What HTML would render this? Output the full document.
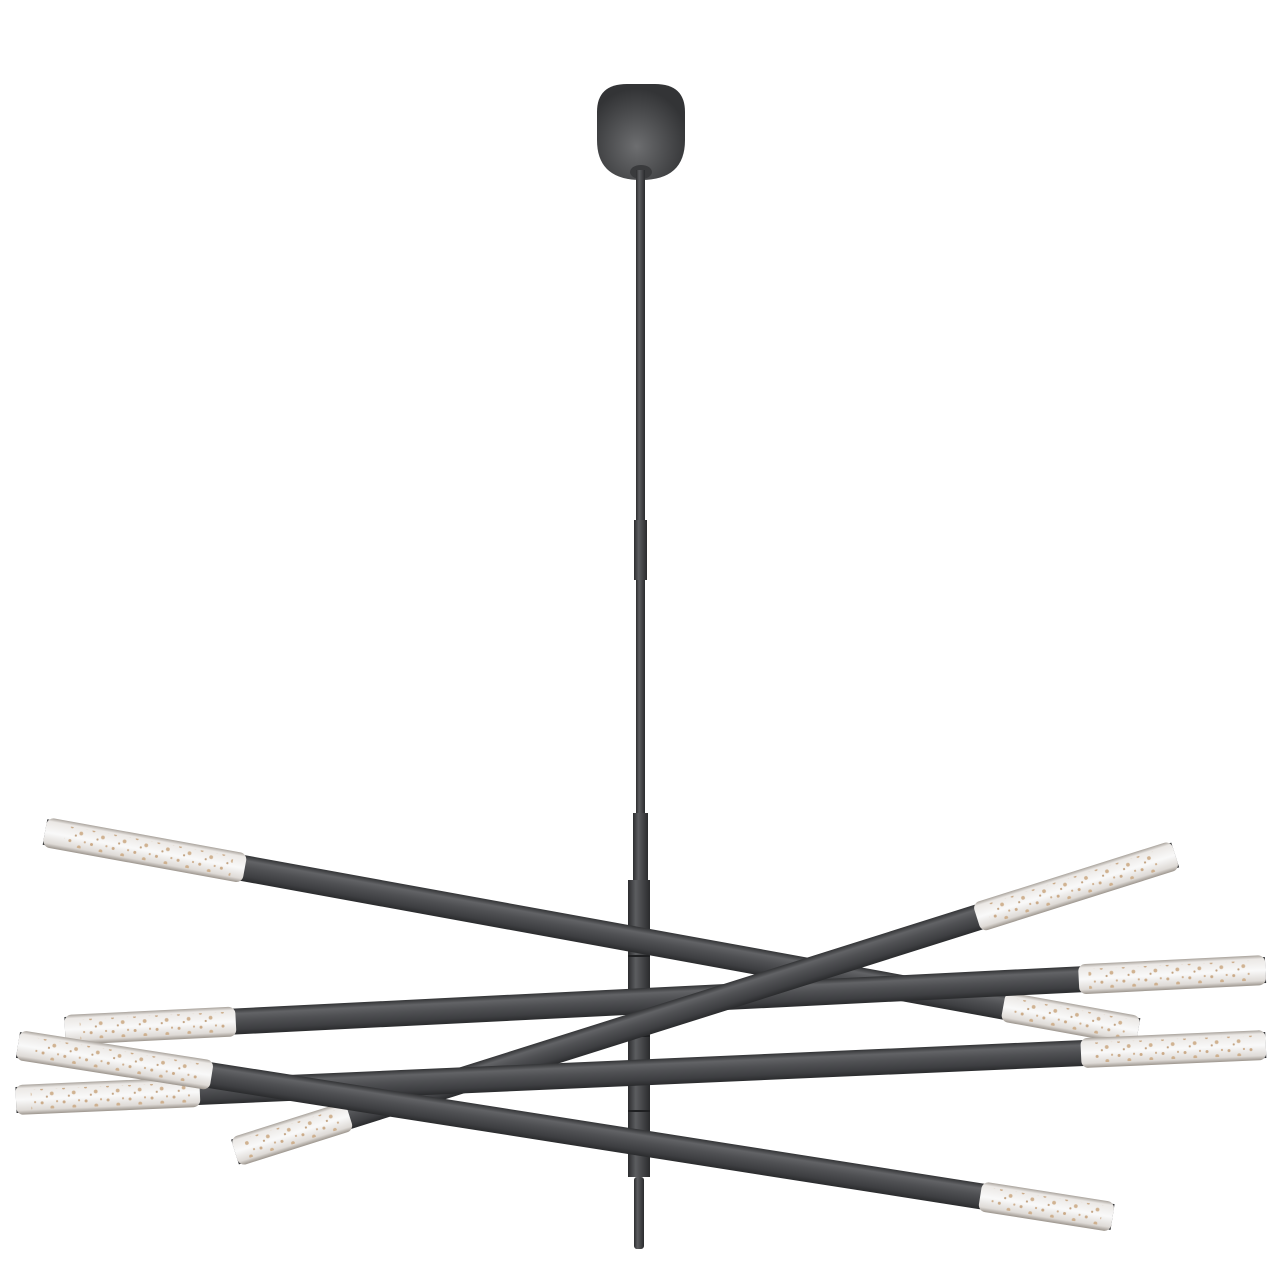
<!DOCTYPE html>
<html><head><meta charset="utf-8"><style>html,body{margin:0;padding:0;background:#fff;}svg{display:block}</style></head>
<body>
<svg width="1280" height="1280" viewBox="0 0 1280 1280" xmlns="http://www.w3.org/2000/svg">
<defs>
<linearGradient id="rod" x1="0" y1="0" x2="0" y2="1">
<stop offset="0" stop-color="#333436"/><stop offset="0.2" stop-color="#626366"/><stop offset="0.45" stop-color="#505154"/><stop offset="0.8" stop-color="#3d3e41"/><stop offset="1" stop-color="#2a2b2d"/>
</linearGradient>
<linearGradient id="tip" x1="0" y1="0" x2="0" y2="1">
<stop offset="0" stop-color="#a9a39c"/><stop offset="0.12" stop-color="#ebe8e5"/><stop offset="0.5" stop-color="#f9f9f9"/><stop offset="0.85" stop-color="#dedad6"/><stop offset="1" stop-color="#9c958d"/>
</linearGradient>
<linearGradient id="vert" x1="0" y1="0" x2="1" y2="0">
<stop offset="0" stop-color="#2c2d2f"/><stop offset="0.35" stop-color="#5c5d60"/><stop offset="1" stop-color="#2a2b2d"/>
</linearGradient>
<radialGradient id="can" cx="0.45" cy="0.65" r="0.6">
<stop offset="0" stop-color="#6d6e70"/><stop offset="0.6" stop-color="#4a4b4d"/><stop offset="1" stop-color="#333436"/>
</radialGradient>
<pattern id="bub" width="22" height="14" patternUnits="userSpaceOnUse">
<circle cx="4" cy="4" r="1.5" fill="#c49e76"/><circle cx="14" cy="9" r="1.9" fill="#caa780"/><circle cx="9" cy="12" r="1.1" fill="#b8936b"/><circle cx="19" cy="3" r="1.1" fill="#c8a47e"/>
</pattern>
</defs>

<path d="M597,112 Q597,84 627,84 L655,84 Q685,84 685,112 L685,140 Q685,180 641,180 Q597,180 597,140 Z" fill="url(#can)"/>
<ellipse cx="641" cy="172" rx="11" ry="7" fill="#3a3b3d"/>
<rect x="636" y="170" width="9" height="645" fill="url(#vert)"/>
<rect x="634" y="520" width="13" height="60" fill="url(#vert)"/>
<rect x="633" y="813" width="15" height="70" fill="url(#vert)"/>
<rect x="628" y="880" width="22" height="297" fill="url(#vert)"/>
<rect x="628" y="955" width="22" height="2" fill="#1f2022"/>
<rect x="628" y="1035" width="22" height="2" fill="#1f2022"/>
<rect x="628" y="1110" width="22" height="2" fill="#1f2022"/>
<rect x="634" y="1177" width="10" height="72" rx="3" fill="url(#vert)"/>

<g transform="translate(45,832) rotate(10.32)">
<rect x="0" y="-13" width="1111" height="26" fill="url(#rod)"/>
<rect x="0" y="-15" width="203" height="30" rx="7" fill="url(#tip)"/><rect x="20" y="-10" width="170" height="20" fill="url(#bub)" opacity="0.85"/>
<rect x="974" y="-15" width="137" height="30" rx="7" fill="url(#tip)"/><rect x="985" y="-10" width="115" height="20" fill="url(#bub)" opacity="0.85"/>
</g>
<g transform="translate(65,1030) rotate(-2.86)">
<rect x="0" y="-13" width="1202" height="26" fill="url(#rod)"/>
<rect x="0" y="-15" width="171" height="30" rx="7" fill="url(#tip)"/><rect x="15" y="-10" width="145" height="20" fill="url(#bub)" opacity="0.85"/>
<rect x="1015" y="-15" width="187" height="30" rx="7" fill="url(#tip)"/><rect x="1025" y="-10" width="165" height="20" fill="url(#bub)" opacity="0.85"/>
</g>
<g transform="translate(235,1152) rotate(-17.53)">
<rect x="0" y="-13" width="986" height="26" fill="url(#rod)"/>
<rect x="0" y="-15" width="120" height="30" rx="7" fill="url(#tip)"/><rect x="12" y="-10" width="100" height="20" fill="url(#bub)" opacity="0.85"/>
<rect x="778" y="-15" width="208" height="30" rx="7" fill="url(#tip)"/><rect x="790" y="-10" width="180" height="20" fill="url(#bub)" opacity="0.85"/>
</g>
<g transform="translate(16,1100) rotate(-2.52)">
<rect x="0" y="-13" width="1251" height="26" fill="url(#rod)"/>
<rect x="0" y="-15" width="184" height="30" rx="7" fill="url(#tip)"/><rect x="15" y="-10" width="160" height="20" fill="url(#bub)" opacity="0.85"/>
<rect x="1066" y="-15" width="185" height="30" rx="7" fill="url(#tip)"/><rect x="1078" y="-10" width="160" height="20" fill="url(#bub)" opacity="0.85"/>
</g>
<g transform="translate(18,1045) rotate(8.93)">
<rect x="0" y="-13" width="1108" height="26" fill="url(#rod)"/>
<rect x="0" y="-15" width="196" height="30" rx="7" fill="url(#tip)"/><rect x="18" y="-10" width="165" height="20" fill="url(#bub)" opacity="0.85"/>
<rect x="974" y="-15" width="134" height="30" rx="7" fill="url(#tip)"/><rect x="985" y="-10" width="112" height="20" fill="url(#bub)" opacity="0.85"/>
</g>
</svg>
</body></html>
